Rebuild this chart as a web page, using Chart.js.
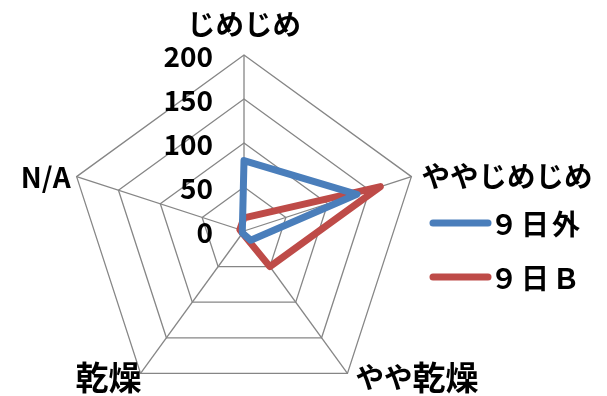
<!DOCTYPE html>
<html>
<head>
<meta charset="utf-8">
<script src="https://cdn.jsdelivr.net/npm/chart.js@4"></script>
<style>
  html, body { margin: 0; padding: 0; background: #fff; overflow: hidden; }
  #wrap { width: 607px; height: 430px; }
</style>
</head>
<body>
<div id="wrap"><canvas id="radarChart" width="607" height="430"></canvas></div>
<script>
const categories = ["じめじめ", "ややじめじめ", "やや乾燥", "乾燥", "N/A"];
const series1Name = "９日外";
const series1 = [80, 135, 13, 3, 2];
const series2Name = "９日Ｂ";
const series2 = [15, 163, 50, 3, 5];
const tickValues = [0, 50, 100, 150, 200];

const JP = "'Noto Sans CJK JP', 'Noto Sans', sans-serif";

// offsets of each category label from its outer vertex
const labelPlacement = [
  { dx: 0, dy: -31, align: "center" },
  { dx: 10, dy: 0, align: "left" },
  { dx: 8, dy: 4, align: "left" },
  { dx: 1, dy: 4, align: "right" },
  { dx: -6, dy: 1, align: "right" }
];

// kanji a bit larger than kana, like the original proportional gothic
function charFont(ch) {
  if (/[\u4e00-\u9fff]/.test(ch)) return "bold 33px " + JP;
  if (/[\u3040-\u30ff]/.test(ch)) return "bold 28.5px " + JP;
  return "bold 28px " + JP;
}

function drawJP(ctx, text, x, y, align) {
  const chars = Array.from(text);
  const widths = chars.map(ch => { ctx.font = charFont(ch); return ctx.measureText(ch).width; });
  const total = widths.reduce((a, b) => a + b, 0);
  let cx = align === "center" ? x - total / 2 : align === "right" ? x - total : x;
  ctx.textAlign = "left";
  chars.forEach((ch, i) => {
    ctx.font = charFont(ch);
    ctx.fillText(ch, cx, y);
    cx += widths[i];
  });
}

const radarText = {
  id: "radarText",
  afterDraw(chart) {
    const ctx = chart.ctx;
    const scale = chart.scales.r;
    ctx.save();
    ctx.fillStyle = "#000";
    ctx.textBaseline = "middle";

    // tick labels, left of the top axis
    ctx.font = "bold 28px " + JP;
    ctx.textAlign = "right";
    tickValues.forEach(v => {
      const d = scale.getDistanceFromCenterForValue(v);
      ctx.fillText(String(v), scale.xCenter - 31, scale.yCenter - d + 1);
    });

    // category labels
    categories.forEach((c, i) => {
      const p = scale.getPointPosition(i, scale.drawingArea);
      const pl = labelPlacement[i];
      drawJP(ctx, c, p.x + pl.dx, p.y + pl.dy, pl.align);
    });

    // legend
    const items = [
      { name: series1Name, color: chart.data.datasets[0].borderColor, y: 223 },
      { name: series2Name, color: chart.data.datasets[1].borderColor, y: 277 }
    ];
    items.forEach(it => {
      ctx.strokeStyle = it.color;
      ctx.lineWidth = 7;
      ctx.lineCap = "round";
      ctx.beginPath();
      ctx.moveTo(433, it.y);
      ctx.lineTo(488, it.y);
      ctx.stroke();
      ctx.font = "bold 28px " + JP;
      ctx.textAlign = "left";
      ctx.letterSpacing = "3px";
      ctx.fillText(it.name, 490, it.y + 1);
      ctx.letterSpacing = "0px";
    });
    ctx.restore();
  }
};

new Chart(document.getElementById("radarChart"), {
  type: "radar",
  data: {
    labels: categories,
    datasets: [
      {
        label: series1Name,
        data: series1,
        borderColor: "#4A7EBB",
        backgroundColor: "rgba(0,0,0,0)",
        borderWidth: 7,
        borderJoinStyle: "round",
        pointRadius: 0,
        fill: false
      },
      {
        label: series2Name,
        data: series2,
        borderColor: "#BE4B48",
        backgroundColor: "rgba(0,0,0,0)",
        borderWidth: 7,
        borderJoinStyle: "round",
        pointRadius: 0,
        fill: false
      }
    ]
  },
  options: {
    responsive: false,
    animation: false,
    layout: { padding: { left: 68, right: 187, top: 55, bottom: 23 } },
    plugins: { legend: { display: false }, tooltip: { enabled: false } },
    elements: { line: { tension: 0 } },
    scales: {
      r: {
        min: 0,
        max: 200,
        ticks: { stepSize: 50, display: false },
        grid: { color: "#868686", lineWidth: 1.3 },
        angleLines: { color: "#868686", lineWidth: 1.3 },
        pointLabels: { display: false }
      }
    }
  },
  plugins: [radarText]
});
</script>
</body>
</html>
